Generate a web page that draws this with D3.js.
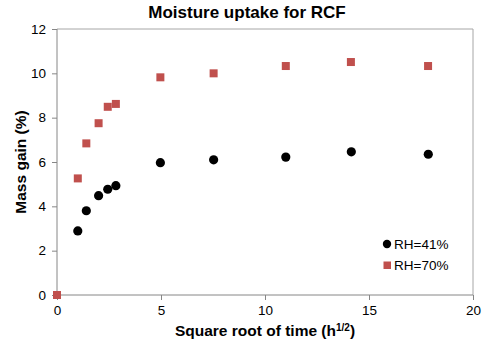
<!DOCTYPE html>
<html>
<head>
<meta charset="utf-8">
<script src="https://cdn.jsdelivr.net/npm/d3@7"></script>
<style>
  html, body { margin: 0; padding: 0; background: #fff; }
  svg { display: block; font-family: "Liberation Sans", Arial, sans-serif; }
</style>
</head>
<body>
<svg id="chart" width="482" height="345"></svg>
<script>
// Square root of time (h^1/2) and mass gain (%) for each humidity series
const xRH41 = [0, 1, 1.41, 2, 2.44, 2.83, 4.97, 7.53, 11.0, 14.15, 17.85];
const yRH41 = [0, 2.89, 3.80, 4.48, 4.77, 4.93, 5.97, 6.10, 6.22, 6.46, 6.35];
const xRH70 = [0, 1, 1.41, 2, 2.44, 2.83, 4.97, 7.53, 11.0, 14.13, 17.84];
const yRH70 = [0, 5.26, 6.84, 7.75, 8.49, 8.62, 9.82, 10.0, 10.33, 10.51, 10.33];
const xTicks = [0, 5, 10, 15, 20];
const yTicks = [0, 2, 4, 6, 8, 10, 12];
const seriesNames = ["RH=41%", "RH=70%"];

const svg = d3.select("#chart");
const plotLeft = 57, plotRight = 473, plotTop = 29, plotBottom = 295;

const x = d3.scaleLinear().domain([0, 20]).range([plotLeft, plotRight]);
const y = d3.scaleLinear().domain([0, 12]).range([plotBottom, plotTop]);

const axisColor = "#868686";

// Plot frame (top and right edges)
svg.append("path")
  .attr("d", `M${plotLeft},${plotTop}H${plotRight}V${plotBottom}`)
  .attr("fill", "none")
  .attr("stroke", "#a6a6a6")
  .attr("stroke-width", 1);

// Y axis
const gy = svg.append("g")
  .attr("transform", `translate(${plotLeft},0)`)
  .call(d3.axisLeft(y).tickValues(yTicks).tickSize(5).tickPadding(6).tickFormat(d3.format("d")));
// X axis
const gx = svg.append("g")
  .attr("transform", `translate(0,${plotBottom})`)
  .call(d3.axisBottom(x).tickValues(xTicks).tickSize(5).tickPadding(5).tickFormat(d3.format("d")));

[gx, gy].forEach(g => {
  g.select(".domain").attr("stroke", axisColor);
  g.selectAll(".tick line").attr("stroke", axisColor);
  g.selectAll(".tick text")
    .attr("fill", "#000")
    .style("font-family", "'Liberation Sans', Arial, sans-serif")
    .style("font-size", "13.5px");
});
gy.select(".domain").attr("d", `M0,${plotBottom}V${plotTop}`);
gx.select(".domain").attr("d", `M${plotLeft},0H${plotRight}`);

// Title
svg.append("text")
  .attr("x", 247).attr("y", 18)
  .attr("text-anchor", "middle")
  .style("font-size", "17px").style("font-weight", "bold")
  .text("Moisture uptake for RCF");

// Axis titles
svg.append("text")
  .attr("transform", `translate(26,${(plotTop + plotBottom) / 2}) rotate(-90)`)
  .attr("text-anchor", "middle")
  .style("font-size", "15.5px").style("font-weight", "bold")
  .text("Mass gain (%)");

const xt = svg.append("text")
  .attr("x", 265).attr("y", 336)
  .attr("text-anchor", "middle")
  .style("font-size", "15.5px").style("font-weight", "bold");
xt.append("tspan").text("Square root of time (h");
xt.append("tspan").attr("dy", -5).style("font-size", "10px").text("1/2");
xt.append("tspan").attr("dy", 5).text(")");

// RH=70% squares
const sq = 8;
svg.append("g").selectAll("rect")
  .data(d3.zip(xRH70, yRH70))
  .join("rect")
  .attr("x", d => x(d[0]) - sq / 2)
  .attr("y", d => y(d[1]) - sq / 2)
  .attr("width", sq).attr("height", sq)
  .attr("fill", "#c0504d");

// RH=41% circles
svg.append("g").selectAll("circle")
  .data(d3.zip(xRH41, yRH41).slice(1))
  .join("circle")
  .attr("cx", d => x(d[0]))
  .attr("cy", d => y(d[1]))
  .attr("r", 4.6)
  .attr("fill", "#000");

// Legend
const legend = svg.append("g");
legend.append("circle").attr("cx", 387).attr("cy", 244).attr("r", 4.2).attr("fill", "#000");
legend.append("rect").attr("x", 383.5).attr("y", 261.5).attr("width", 7.5).attr("height", 7.5).attr("fill", "#c0504d");
legend.selectAll("text")
  .data(seriesNames)
  .join("text")
  .attr("x", 394)
  .attr("y", (d, i) => 248.5 + i * 21)
  .style("font-size", "13.5px")
  .text(d => d);
</script>
</body>
</html>
